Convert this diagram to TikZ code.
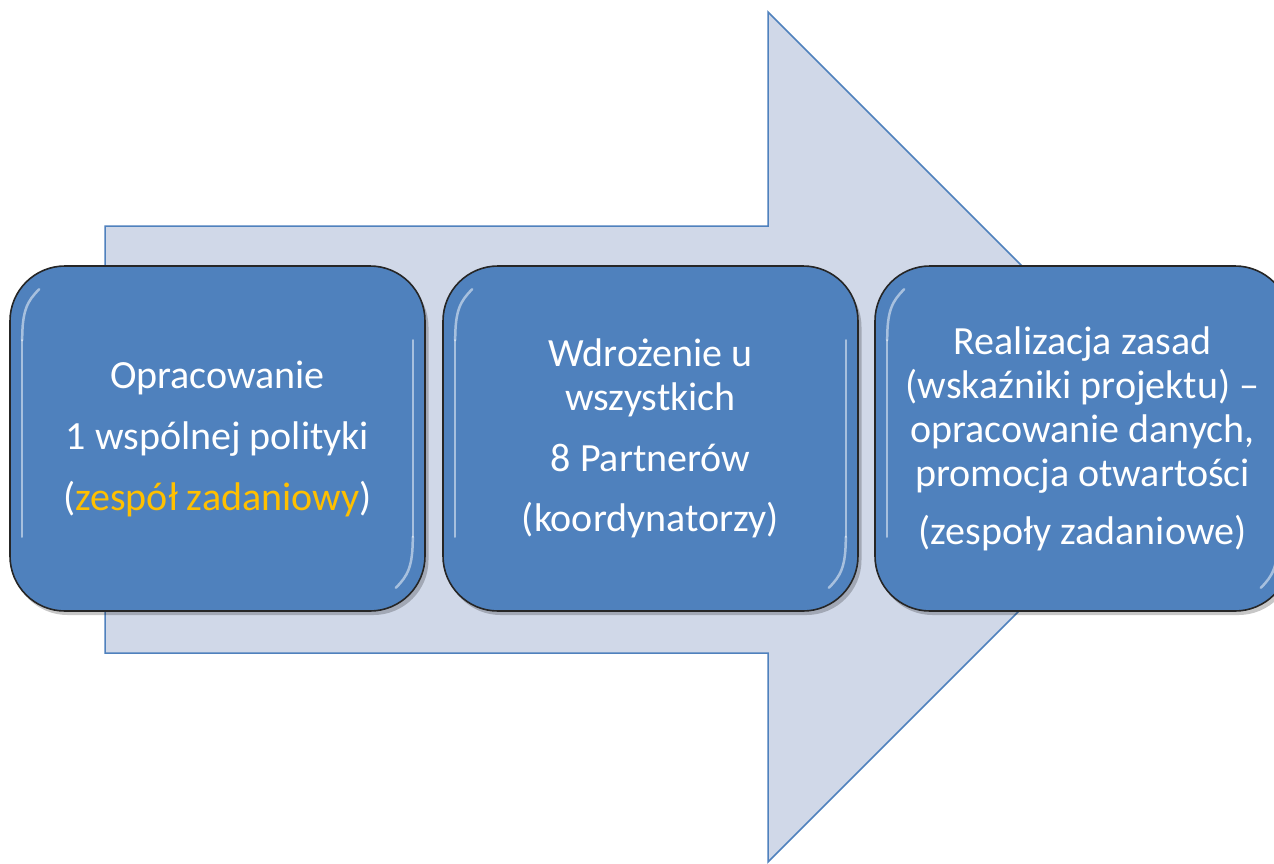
\documentclass[tikz,border=0pt]{standalone}
\usepackage{fontspec}
\setmainfont{Carlito}
\definecolor{boxblue}{HTML}{4F81BD}
\definecolor{arrowfill}{HTML}{D0D8E8}
\definecolor{hiyellow}{HTML}{FFC000}
\tikzset{
  stagebox/.style={rectangle, rounded corners=55pt, minimum width=415pt, minimum height=345pt,
    fill=boxblue, draw=black!85, line width=1.6pt, text=white,
    font=\fontsize{40}{44}\selectfont, align=center, inner sep=0pt},
  boxshadow/.style={fill=black, opacity=0.22, rounded corners=55pt},
  gloss/.style={draw=white, opacity=0.5, line width=2.5pt, line cap=round},
  bigarrow/.style={fill=arrowfill, draw=boxblue, line width=1.5pt, line join=miter}
}
\begin{document}
\begin{tikzpicture}[x=1pt,y=-1pt]
\useasboundingbox (0,0) rectangle (1274,863);
\clip (0,0) rectangle (1274,863);
\fill[white] (0,0) rectangle (1274,863);
% big arrow
\draw[bigarrow] (105,226) -- (768,226) -- (768,12) -- (1193,437) -- (768,862) -- (768,653) -- (105,653) -- cycle;
% shadows
\foreach \cx in {217.5,650.5,1082.5}{
  \fill[boxshadow] (\cx-205,272) rectangle (\cx+211,615);
}
% boxes
\node[stagebox] (b1) at (217.5,438.5) {Opracowanie\\[17pt] 1 wspólnej polityki\\[17pt] (\textcolor{hiyellow}{zespół zadaniowy})};
\node[stagebox] (b2) at (650.5,438.5) {Wdrożenie u\\ wszystkich\\[17pt] 8 Partnerów\\[16pt] (koordynatorzy)};
\node[stagebox] (b3) at (1082.5,438.5) {Realizacja zasad\\ (wskaźniki projektu) –\\ opracowanie danych,\\ promocja otwartości\\[14pt] (zespoły zadaniowe)};
% gloss highlights
\foreach \b in {b1,b2,b3}{
  \draw[gloss] ([shift={(13,75)}]\b.north west) -- ([shift={(13,-75)}]\b.south west);
  \draw[gloss] ([shift={(-13,75)}]\b.north east) -- ([shift={(-13,-75)}]\b.south east);
  \draw[gloss] ([shift={(13,75)}]\b.north west) .. controls ([shift={(13,45)}]\b.north west) and ([shift={(18,36)}]\b.north west) .. ([shift={(30,24)}]\b.north west);
  \draw[gloss] ([shift={(-13,-75)}]\b.south east) .. controls ([shift={(-13,-45)}]\b.south east) and ([shift={(-18,-36)}]\b.south east) .. ([shift={(-30,-24)}]\b.south east);
}
\end{tikzpicture}
\end{document}
